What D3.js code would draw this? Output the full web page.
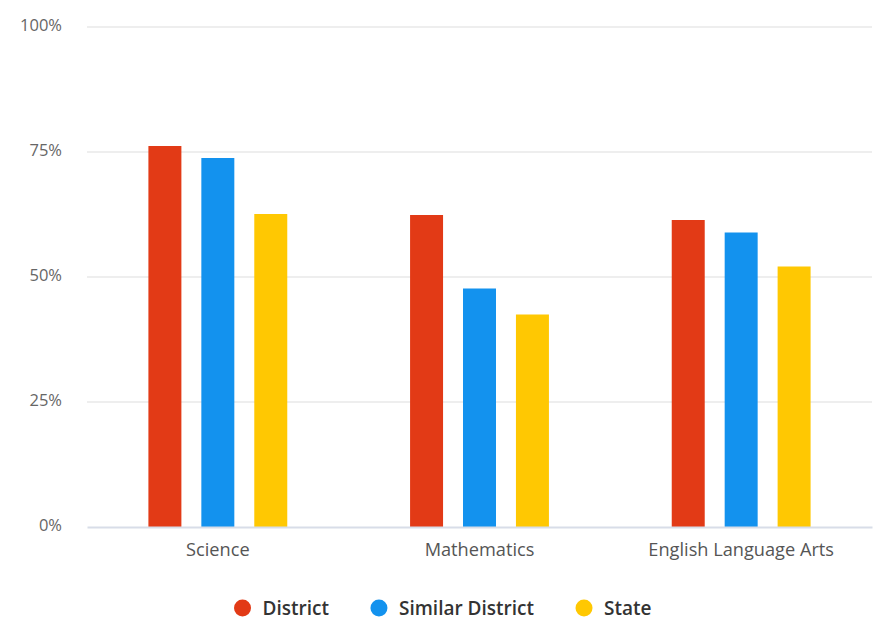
<!DOCTYPE html>
<html>
<head>
<meta charset="utf-8">
<script src="https://cdn.jsdelivr.net/npm/d3@7"></script>
<style>
  body { margin: 0; background: #fff; }
  svg { font-family: 'Open Sans', sans-serif; display: block; }
</style>
</head>
<body>
<div id="chart"></div>
<script>
const subjects = ['Science', 'Mathematics', 'English Language Arts']
const seriesNames = ['District', 'Similar District', 'State']
const districtValues = [76.2, 62.4, 61.4]
const similarValues = [73.8, 47.7, 58.9]
const stateValues = [62.6, 42.5, 52.1]
const yTicks = [0, 25, 50, 75, 100]

const seriesValues = [districtValues, similarValues, stateValues]
const colors = d3.scaleOrdinal()
  .domain(seriesNames)
  .range(['#e23a16', '#1392ee', '#ffc802'])

const width = 884
const height = 627
const margin = { top: 27, right: 12, bottom: 100, left: 87 }

const svg = d3.select('#chart')
  .append('svg')
  .attr('width', width)
  .attr('height', height)

const xScale = d3.scaleBand()
  .domain(subjects)
  .range([margin.left, width - margin.right])
  .padding(0)
const xSub = d3.scaleBand()
  .domain(seriesNames)
  .range([0, xScale.bandwidth()])
  .paddingInner(0.377)
  .paddingOuter(1.16)
const yScale = d3.scaleLinear()
  .domain([0, 100])
  .range([height - margin.bottom, margin.top])

// grid
svg.append('g')
  .selectAll('line')
  .data(yTicks.filter(d => d > 0))
  .join('line')
  .attr('x1', margin.left)
  .attr('x2', width - margin.right)
  .attr('y1', d => yScale(d))
  .attr('y2', d => yScale(d))
  .attr('stroke', '#e8e8e8')
  .attr('stroke-width', 1.5)

const axisY = d3.axisLeft(yScale).tickValues(yTicks).tickFormat(d => d + '%').tickSize(0).tickPadding(25)
svg.append('g')
  .attr('class', 'axisY')
  .attr('transform', `translate(${margin.left}, -2)`)
  .call(axisY)
  .attr('font-family', null)
  .attr('font-size', null)
  .call(g => g.select('.domain').remove())
  .call(g => g.selectAll('text').attr('fill', '#666').style('font-size', '16.5px'))

// bars
const groups = svg.append('g')
  .selectAll('g')
  .data(subjects)
  .join('g')
  .attr('transform', d => `translate(${xScale(d)}, 0)`)
groups.selectAll('rect')
  .data((d, i) => seriesNames.map((s, j) => ({ name: s, value: seriesValues[j][i] })))
  .join('rect')
  .attr('x', d => xSub(d.name))
  .attr('y', d => yScale(d.value))
  .attr('width', xSub.bandwidth())
  .attr('height', d => yScale(0) - yScale(d.value))
  .attr('fill', d => colors(d.name))

const axisX = d3.axisBottom(xScale).tickSize(0).tickPadding(16)
svg.append('g')
  .attr('class', 'axisX')
  .attr('transform', `translate(0, ${height - margin.bottom})`)
  .call(axisX)
  .attr('font-family', null)
  .attr('font-size', null)
  .call(g => g.select('.domain').attr('stroke', '#d8dde8').attr('stroke-width', 2))
  .call(g => g.selectAll('text').attr('fill', '#555').style('font-size', '18.2px'))

// legend
const legend = svg.append('g')
let lx = 0
const items = legend.selectAll('g')
  .data(seriesNames)
  .join('g')
items.append('circle')
  .attr('r', 8.5)
  .attr('cx', 8)
  .attr('fill', d => colors(d))
items.append('text')
  .attr('x', 28)
  .attr('dy', '0.35em')
  .attr('fill', '#333')
  .style('font-size', '19px')
  .style('font-weight', 600)
  .text(d => d)
items.each(function () {
  const w = d3.select(this).select('text').node().getComputedTextLength()
  d3.select(this).attr('transform', `translate(${lx}, 0)`)
  lx += 28 + w + 42
})
const legendWidth = lx - 42
legend.attr('transform', `translate(${(width - legendWidth) / 2 + 1}, 608)`)
</script>
</body>
</html>
